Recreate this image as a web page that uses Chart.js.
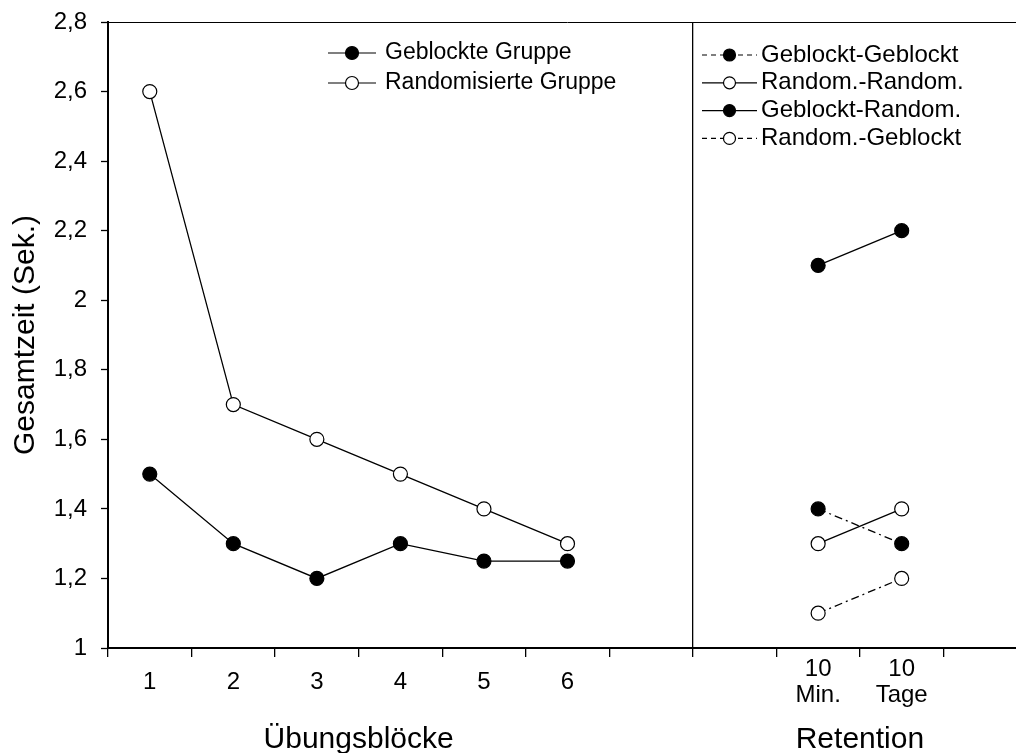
<!DOCTYPE html>
<html lang="de">
<head>
<meta charset="utf-8">
<script src="https://cdn.jsdelivr.net/npm/chart.js@4.4.1/dist/chart.umd.min.js"></script>
<style>
  html, body { margin: 0; padding: 0; background: #fff; overflow: hidden; width: 1016px; height: 753px; }
  #wrap { width: 1040px; height: 753px; }
</style>
</head>
<body>
<div id="wrap"><canvas id="c" width="1040" height="753"></canvas></div>
<script>
// Category slots: six practice blocks, a spacer, then the retention panel
const categories = ['1', '2', '3', '4', '5', '6', '', '', ['10', 'Min.'], ['10', 'Tage'], ''];

// Practice phase (Übungsblöcke)
const geblockteGruppe     = [1.5, 1.3, 1.2, 1.3, 1.25, 1.25, null, null, null, null, null];
const randomisierteGruppe = [2.6, 1.7, 1.6, 1.5, 1.4, 1.3, null, null, null, null, null];

// Retention tests (10 Min. / 10 Tage)
const geblocktGeblockt = [null, null, null, null, null, null, null, null, 1.4, 1.3, null];
const randomRandom     = [null, null, null, null, null, null, null, null, 1.3, 1.4, null];
const geblocktRandom   = [null, null, null, null, null, null, null, null, 2.1, 2.2, null];
const randomGeblockt   = [null, null, null, null, null, null, null, null, 1.1, 1.2, null];

const yMin = 1, yMax = 2.8, yStep = 0.2;

const FONT = '"Liberation Sans", Arial, sans-serif';
const dashDotDot = [8, 4, 2, 4];

function series(label, data, filled, dashed) {
  return {
    label, data,
    borderColor: '#000',
    borderWidth: 1.3,
    borderDash: dashed ? dashDotDot : [],
    pointRadius: 7,
    pointHoverRadius: 7,
    pointBorderWidth: 1.2,
    pointBorderColor: '#000',
    pointBackgroundColor: filled ? '#000' : '#fff',
    tension: 0,
    spanGaps: false
  };
}

// Two line-sample legends, one per panel
const panelLegends = {
  id: 'panelLegends',
  afterDraw(chart, args, opts) {
    const ctx = chart.ctx;
    opts.groups.forEach(g => {
      g.items.forEach((dsIndex, i) => {
        const ds = chart.data.datasets[dsIndex];
        const y = g.y + i * g.rowGap;
        ctx.save();
        ctx.strokeStyle = '#000';
        ctx.lineWidth = 1.2;
        ctx.setLineDash(ds.borderDash.length ? g.dash : []);
        ctx.beginPath();
        ctx.moveTo(g.x, y);
        ctx.lineTo(g.x + g.lineLen, y);
        ctx.stroke();
        ctx.setLineDash([]);
        ctx.beginPath();
        ctx.arc(g.x + g.lineLen / 2, y, g.radius, 0, Math.PI * 2);
        ctx.fillStyle = ds.pointBackgroundColor;
        ctx.fill();
        ctx.stroke();
        ctx.fillStyle = '#000';
        ctx.font = g.fontSize + 'px ' + FONT;
        ctx.textAlign = 'left';
        ctx.textBaseline = 'middle';
        ctx.fillText(ds.label, g.x + g.lineLen + g.gap, y);
        ctx.restore();
      });
    });
  }
};

// Frame line along the top of the plot area
const topFrame = {
  id: 'topFrame',
  afterDraw(chart) {
    const { ctx, chartArea } = chart;
    ctx.save();
    ctx.strokeStyle = '#000';
    ctx.lineWidth = 1;
    ctx.beginPath();
    ctx.moveTo(chartArea.left, chartArea.top + 0.5);
    ctx.lineTo(chartArea.right, chartArea.top + 0.5);
    ctx.stroke();
    ctx.restore();
  }
};

// Axis titles centred under each panel's labelled categories
const panelTitles = {
  id: 'panelTitles',
  afterDraw(chart, args, opts) {
    const { ctx } = chart;
    const x = chart.scales.x;
    ctx.save();
    ctx.fillStyle = '#000';
    ctx.font = opts.fontSize + 'px ' + FONT;
    ctx.textAlign = 'center';
    ctx.textBaseline = 'alphabetic';
    opts.titles.forEach(t => {
      const cx = (x.getPixelForValue(t.from) + x.getPixelForValue(t.to)) / 2;
      ctx.fillText(t.text, cx, opts.baseline);
    });
    ctx.restore();
  }
};

new Chart(document.getElementById('c'), {
  type: 'line',
  data: {
    labels: categories,
    datasets: [
      series('Geblockte Gruppe', geblockteGruppe, true, false),
      series('Randomisierte Gruppe', randomisierteGruppe, false, false),
      series('Geblockt-Geblockt', geblocktGeblockt, true, true),
      series('Random.-Random.', randomRandom, false, false),
      series('Geblockt-Random.', geblocktRandom, true, false),
      series('Random.-Geblockt', randomGeblockt, false, true)
    ]
  },
  options: {
    responsive: false,
    animation: false,
    events: [],
    layout: { padding: { top: 22, right: 13, bottom: 0, left: 0 } },
    scales: {
      x: {
        type: 'category',
        offset: true,
        grid: {
          offset: true,
          drawOnChartArea: true,
          color: c => (c.index === 7 ? '#000' : 'rgba(0,0,0,0)'),
          lineWidth: 1.3,
          tickColor: '#000',
          tickWidth: 1.3,
          tickLength: 9
        },
        border: { color: '#000', width: 2 },
        ticks: {
          color: '#000',
          font: { family: FONT, size: 24, lineHeight: 1.1 },
          padding: 12,
          maxRotation: 0,
          autoSkip: false,
          crossAlign: 'center'
        },
        afterFit: s => { s.height = 105; s.paddingLeft = 0; s.paddingRight = 0; }
      },
      y: {
        min: yMin,
        max: yMax,
        grid: {
          drawOnChartArea: false,
          color: '#000',
          tickColor: '#000',
          tickWidth: 1.3,
          tickLength: 7
        },
        border: { color: '#000', width: 2 },
        ticks: {
          stepSize: yStep,
          color: '#000',
          font: { family: FONT, size: 24 },
          padding: 14,
          callback: v => String(+v.toFixed(1)).replace('.', ',')
        },
        title: {
          display: true,
          text: 'Gesamtzeit (Sek.)',
          color: '#000',
          font: { family: FONT, size: 30, lineHeight: 1.2 },
          padding: { top: 8, bottom: 0 }
        },
        afterFit: s => { s.width = 108; s.paddingTop = 0; s.paddingBottom = 0; }
      }
    },
    plugins: {
      legend: { display: false },
      tooltip: { enabled: false },
      panelLegends: {
        groups: [
          { items: [0, 1], x: 328, y: 53, rowGap: 30, lineLen: 48, gap: 9, radius: 6.5, fontSize: 23, dash: [5, 4] },
          { items: [2, 3, 4, 5], x: 702, y: 55, rowGap: 27.8, lineLen: 55, gap: 4, radius: 6, fontSize: 24, dash: [5, 4] }
        ]
      },
      panelTitles: {
        fontSize: 30,
        baseline: 748,
        titles: [
          { text: 'Übungsblöcke', from: 0, to: 5 },
          { text: 'Retention', from: 8, to: 9 }
        ]
      }
    }
  },
  plugins: [panelLegends, topFrame, panelTitles]
});
</script>
</body>
</html>
